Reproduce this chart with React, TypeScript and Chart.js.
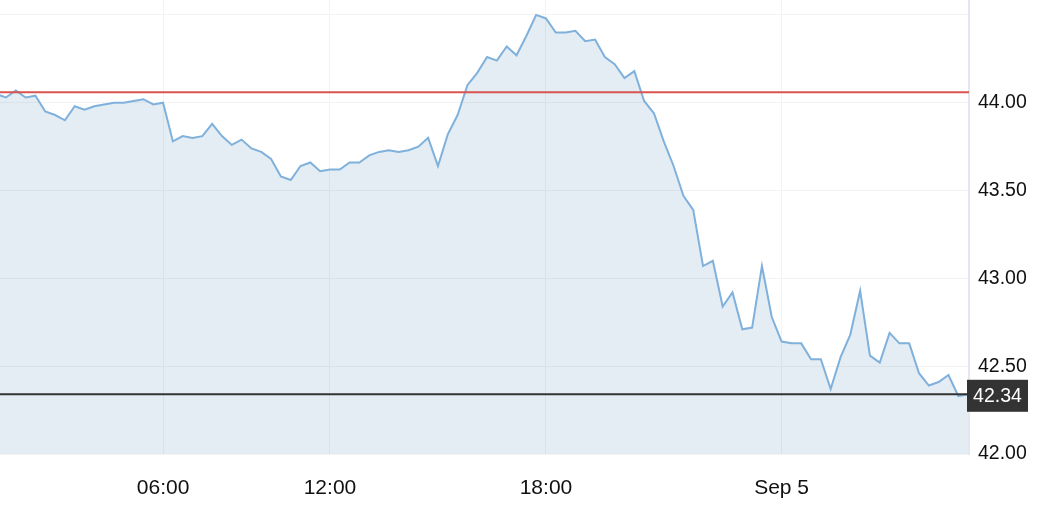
import React, { useEffect, useRef } from "react";
import { Chart, registerables } from "chart.js";

Chart.register(...registerables);

const prices: number[] = [
  44.05, 44.03, 44.07, 44.03, 44.04, 43.95, 43.93, 43.9, 43.98, 43.96,
  43.98, 43.99, 44.0, 44.0, 44.01, 44.02, 43.99, 44.0, 43.78, 43.81,
  43.8, 43.81, 43.88, 43.81, 43.76, 43.79, 43.74, 43.72, 43.68, 43.58,
  43.56, 43.64, 43.66, 43.61, 43.62, 43.62, 43.66, 43.66, 43.7, 43.72,
  43.73, 43.72, 43.73, 43.75, 43.8, 43.64, 43.82, 43.93, 44.1, 44.17,
  44.26, 44.24, 44.32, 44.27, 44.38, 44.5, 44.48, 44.4, 44.4, 44.41,
  44.35, 44.36, 44.26, 44.22, 44.14, 44.18, 44.01, 43.94, 43.78, 43.64,
  43.47, 43.39, 43.07, 43.1, 42.84, 42.92, 42.71, 42.72, 43.07, 42.78,
  42.64, 42.63, 42.63, 42.54, 42.54, 42.37, 42.55, 42.68, 42.93, 42.56,
  42.52, 42.69, 42.63, 42.63, 42.46, 42.39, 42.41, 42.45, 42.33, 42.34,
];

const timeTickIndex: number[] = [17, 34, 56, 80];
const timeTickLabels: string[] = ["06:00", "12:00", "18:00", "Sep 5"];
const priceTicks: number[] = [42, 42.5, 43, 43.5, 44, 44.5];
const refLevel = 44.06;
const lastPrice = 42.34;

const FONT = "'Liberation Sans', Arial, Helvetica, sans-serif";

const linesPlugin = {
  id: "levelLines",
  afterDatasetsDraw(chart: any) {
    const { ctx, chartArea, scales } = chart;
    const y = scales.y;
    ctx.save();
    const yr = y.getPixelForValue(refLevel);
    ctx.strokeStyle = "#d9534f";
    ctx.lineWidth = 2;
    ctx.beginPath();
    ctx.moveTo(chartArea.left, yr);
    ctx.lineTo(chartArea.right, yr);
    ctx.stroke();
    const yl = y.getPixelForValue(lastPrice);
    ctx.strokeStyle = "#333333";
    ctx.lineWidth = 2;
    ctx.beginPath();
    ctx.moveTo(chartArea.left, yl);
    ctx.lineTo(chartArea.right, yl);
    ctx.stroke();
    ctx.restore();
  },
  afterDraw(chart: any) {
    const { ctx, chartArea, scales } = chart;
    const yl = scales.y.getPixelForValue(lastPrice);
    ctx.save();
    const bx = chartArea.right - 2;
    const bw = 61;
    const bh = 32;
    const by = yl + 1.5 - bh / 2;
    ctx.fillStyle = "#333333";
    ctx.fillRect(bx, by, bw, bh);
    ctx.fillStyle = "#ffffff";
    ctx.font = `19.5px ${FONT}`;
    ctx.textAlign = "center";
    ctx.textBaseline = "middle";
    ctx.fillText(lastPrice.toFixed(2), bx + bw / 2, by + bh / 2 + 1);
    ctx.restore();
  },
};

export default function App() {
  const ref = useRef<HTMLCanvasElement | null>(null);

  useEffect(() => {
    if (!ref.current) return;
    const chart = new Chart(ref.current, {
      type: "line",
      data: {
        datasets: [
          {
            data: prices.map((v, i) => ({ x: i, y: v })),
            borderColor: "#7fb1dc",
            borderWidth: 2,
            backgroundColor: "rgba(75,135,175,0.15)",
            fill: "start",
            pointRadius: 0,
            tension: 0,
          },
        ],
      },
      options: {
        animation: false,
        responsive: true,
        maintainAspectRatio: false,
        layout: { padding: 0 },
        plugins: {
          legend: { display: false },
          tooltip: { enabled: false },
        },
        scales: {
          x: {
            type: "linear",
            min: 0.39,
            max: 99.09,
            afterBuildTicks: (scale: any) => {
              scale.ticks = timeTickIndex.map((v) => ({ value: v }));
            },
            afterFit: (scale: any) => {
              scale.height = 60;
              scale.paddingLeft = 0;
              scale.paddingRight = 0;
            },
            border: { display: false },
            grid: { color: "#f3f3f3", lineWidth: 1, drawTicks: false },
            ticks: {
              autoSkip: false,
              maxRotation: 0,
              padding: 22,
              color: "#111111",
              font: { family: FONT, size: 21 },
              callback: (v: any) => {
                const k = timeTickIndex.indexOf(Number(v));
                return k >= 0 ? timeTickLabels[k] : "";
              },
            },
          },
          y: {
            type: "linear",
            position: "right",
            min: 42,
            max: 44.585,
            afterBuildTicks: (scale: any) => {
              scale.ticks = priceTicks.map((v) => ({ value: v }));
            },
            afterFit: (scale: any) => {
              scale.width = 81;
              scale.paddingTop = 0;
              scale.paddingBottom = 0;
            },
            border: { display: true, color: "#e3e8ee", width: 2 },
            grid: { color: "#f3f3f3", lineWidth: 1, drawTicks: false },
            ticks: {
              padding: 9,
              color: "#111111",
              font: { family: FONT, size: 19.5 },
              callback: (v: any) => (Number(v) > 44.4 ? "" : Number(v).toFixed(2)),
            },
          },
        },
      },
      plugins: [linesPlugin],
    });
    return () => chart.destroy();
  }, []);

  return (
    <div style={{ position: "absolute", left: 0, top: 0, width: 1050, height: 514, background: "#ffffff" }}>
      <canvas ref={ref} />
    </div>
  );
}
